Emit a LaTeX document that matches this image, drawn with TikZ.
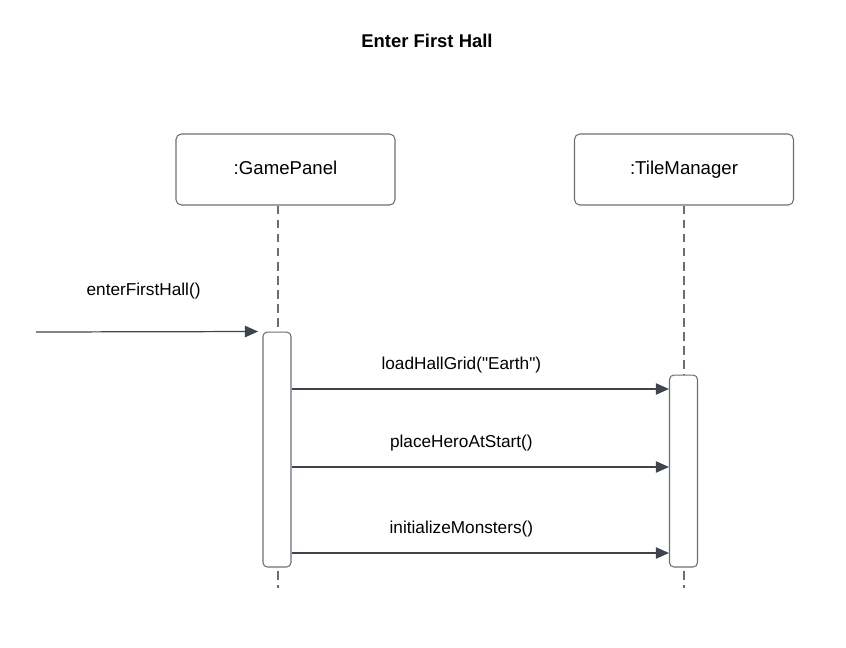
\documentclass[tikz,border=0pt]{standalone}
\usepackage{fontspec}
\setmainfont{Liberation Sans}[Ligatures=TeXOff]
\usetikzlibrary{arrows.meta}

\definecolor{linegray}{HTML}{3F444D}
\definecolor{boxgray}{HTML}{6B6F75}

\tikzset{
  participant/.style={draw=boxgray, line width=0.6pt, rounded corners=3pt, fill=white,
    minimum width=4.38cm, minimum height=1.42cm, text height=0.75em, text depth=0.22em,
    font=\fontsize{10.6}{12}\selectfont},
  activation/.style={draw=boxgray, line width=0.6pt, rounded corners=2.5pt, fill=white,
    minimum width=0.56cm, inner sep=0pt},
  lifeline/.style={draw=boxgray, line width=0.6pt, dash pattern=on 5pt off 3pt},
  msg/.style={draw=linegray, line width=0.7pt, ->},
  msglabel/.style={font=\fontsize{9.8}{11}\selectfont, inner sep=0pt},
  diagtitle/.style={font=\bfseries\fontsize{10.5}{12}\selectfont}
}

\begin{document}
\begin{tikzpicture}[x=0.02cm, y=-0.02cm, >={Triangle[length=7.5pt,width=6.5pt]}]
\useasboundingbox (0,0) rectangle (846,647);

\node[diagtitle] (title) at (427,41) {Enter First Hall};

\node[participant] (gp) at (285.5,169.5) {:GamePanel};
\node[participant] (tm) at (684,169.5) {:TileManager};

% lifelines
\coordinate (gpend) at (278,588);
\coordinate (tmend) at (684,588);
\draw[lifeline] (gp.south -| gpend) -- (gpend);
\draw[lifeline] (tm.south) -- (tmend);

% activations
\node[activation, minimum height=4.7cm] (gpa) at (277,449.5) {};
\node[activation, minimum height=3.84cm] (tma) at (683.5,471) {};

% incoming call
\coordinate (src) at (36,332);
\draw[msg, shorten >=2.5pt] (src) -- node[msglabel, pos=0.475, yshift=0.82cm] (lbl0) {enterFirstHall()} (gpa.north west);

\foreach \y/\txt [count=\i] in {389/{loadHallGrid("Earth")}, 467/{placeHeroAtStart()}, 553/{initializeMonsters()}} {
  \coordinate (m\i) at (0,\y);
  \draw[msg] (gpa.east |- m\i) -- node[msglabel, pos=0.45, yshift=0.48cm] (lbl\i) {\txt} (tma.west |- m\i);
}

\end{tikzpicture}
\end{document}
